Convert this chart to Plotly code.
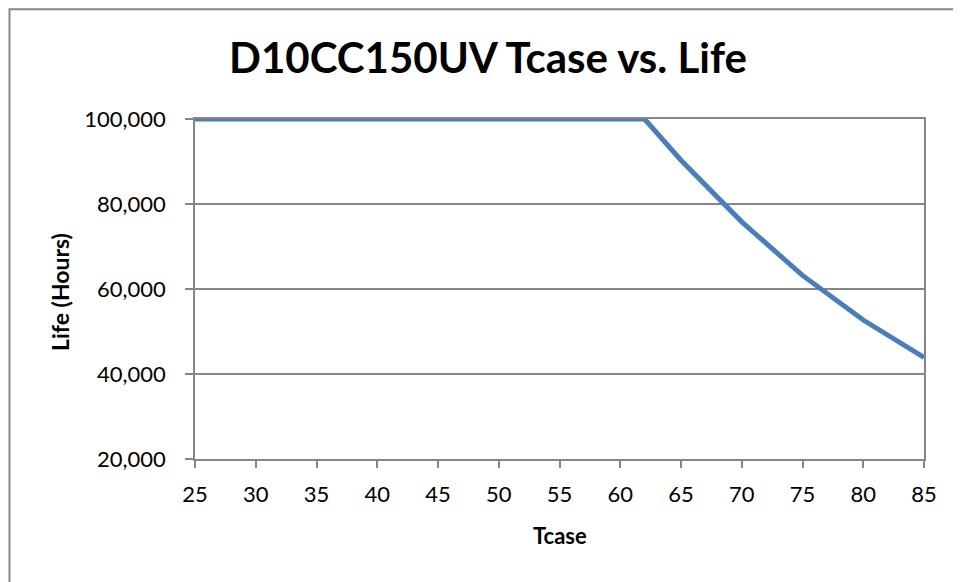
import plotly.graph_objects as go

# Data
tcase = [25, 62, 65, 70, 75, 80, 85]
life_hours = [100000, 100000, 90300, 75800, 63200, 52700, 43900]

x_ticks = [25, 30, 35, 40, 45, 50, 55, 60, 65, 70, 75, 80, 85]
y_ticks = [20000, 40000, 60000, 80000, 100000]

title_text = "D10CC150UV Tcase vs. Life"
x_title = "Tcase"
y_title = "Life (Hours)"

FONT = "Lato, Calibri, Carlito, sans-serif"
GRAY = "#868686"

# the page body adds an 8px offset; compensate so that the drawing lands
# where the reference puts it
OFF = 8
W, H = 961 - OFF, 582 - OFF
L, R, T, B = 195 - OFF, 37, 119 - OFF, 123
pw, ph = W - L - R, H - T - B


def px_x(x):
    return (x - OFF - L) / pw


def px_y(y):
    return (H - B - (y - OFF)) / ph


fig = go.Figure()
fig.add_trace(go.Scatter(
    x=tcase, y=life_hours, mode="lines",
    line=dict(color="#4A7EBB", width=5),
    cliponaxis=False, showlegend=False, hoverinfo="x+y",
))

fig.update_layout(
    width=W, height=H,
    margin=dict(l=L, r=R, t=T, b=B, pad=0),
    paper_bgcolor="white", plot_bgcolor="white",
    font=dict(family=FONT, color="black"),
    showlegend=False,
    xaxis=dict(
        range=[25, 85], tickvals=x_ticks, ticktext=[str(v) for v in x_ticks],
        showgrid=False, zeroline=False,
        showline=True, linecolor=GRAY, linewidth=1.5, mirror=True,
        ticks="outside", ticklen=7, tickcolor=GRAY, tickwidth=1.5,
        tickfont=dict(size=22, family=FONT, color="black"),
        ticklabelstandoff=8,
    ),
    yaxis=dict(
        range=[20000, 100000], tickvals=y_ticks,
        ticktext=[f"{v:,}" for v in y_ticks],
        showgrid=True, gridcolor=GRAY, gridwidth=1.5, zeroline=False,
        showline=True, linecolor=GRAY, linewidth=1.5, mirror=True,
        ticks="outside", ticklen=8, tickcolor=GRAY, tickwidth=1.5,
        tickfont=dict(size=22, family=FONT, color="black"),
        ticklabelstandoff=15,
    ),
    annotations=[
        dict(text=f"<b>{title_text}</b>", xref="paper", yref="paper",
             x=px_x(488), y=px_y(57), xanchor="center", yanchor="middle",
             showarrow=False, font=dict(size=42, family=FONT, color="black")),
        dict(text=f"<b>{x_title}</b>", xref="paper", yref="paper",
             x=px_x(559.5), y=px_y(535), xanchor="center", yanchor="middle",
             showarrow=False, font=dict(size=22, family=FONT, color="black")),
        dict(text=f"<b>{y_title}</b>", xref="paper", yref="paper",
             x=px_x(60), y=px_y(292), xanchor="center", yanchor="middle",
             textangle=-90,
             showarrow=False, font=dict(size=23, family=FONT, color="black")),
    ],
    shapes=[
        dict(type="rect", xref="paper", yref="paper",
             x0=px_x(9.5), x1=px_x(1000), y0=px_y(9.2), y1=px_y(620),
             line=dict(color=GRAY, width=2), fillcolor="rgba(0,0,0,0)",
             layer="below"),
    ],
)

fig.write_html("out.html")
